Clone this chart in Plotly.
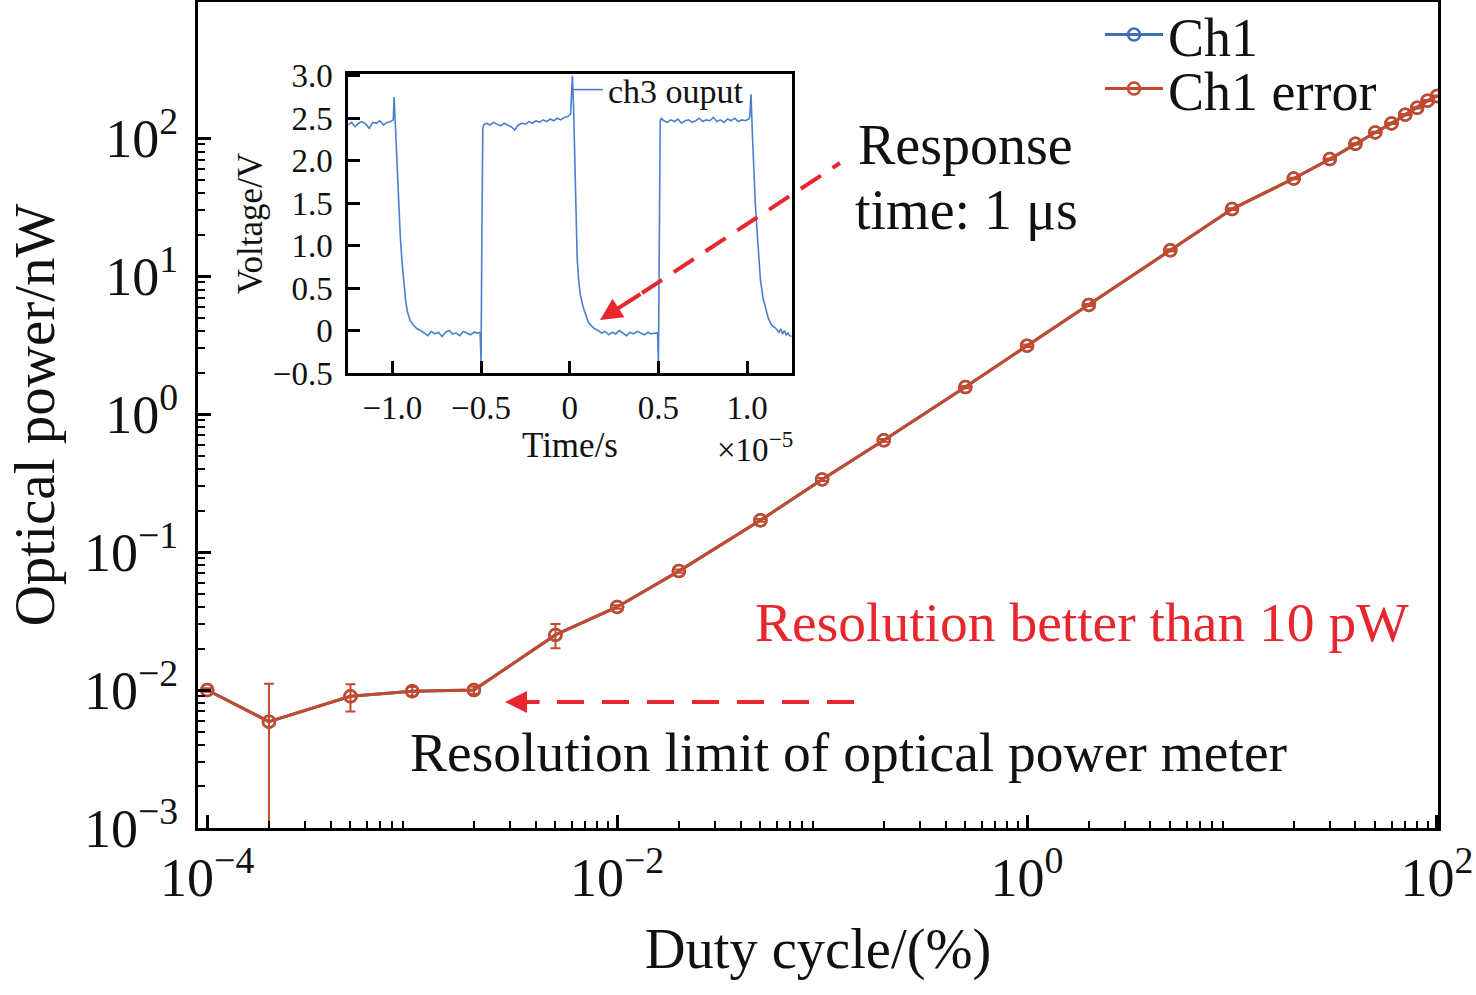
import plotly.graph_objects as go

FONT = "Liberation Serif"
BLUE = "#3d6db5"
RED = "#c44a2c"
INSET_BLUE = "#4a7fcc"
ARROW_RED = "#e8262d"

# main plot: duty cycle (%) vs optical power (nW)
duty_cycle = [1e-4, 2e-4, 5e-4, 1e-3, 2e-3, 5e-3, 1e-2, 2e-2, 5e-2, 0.1, 0.2, 0.5,
              1, 2, 5, 10, 20, 30, 40, 50, 60, 70, 80, 90, 100]
power_nw = [0.0100, 0.0059, 0.0090, 0.0098, 0.0100, 0.0251, 0.0400, 0.0728, 0.170,
            0.336, 0.646, 1.57, 3.13, 6.18, 15.4, 30.6, 51.0, 70.5, 91.0, 110, 128,
            148, 166, 187, 202]
power_err = [0.0003, 0.0052, 0.0020, 0.0007, 0.0006, 0.0050, 0.0012, 0.002, 0.004,
             0.008, 0.015, 0.03, 0.06, 0.1, 0.25, 0.4, 0.6, 0.8, 1.0, 1.2, 1.4, 1.5,
             1.7, 1.9, 2.0]

x_tickvals = [1e-4, 1e-2, 1, 100]
x_ticktext = ["10<sup>\u22124</sup>", "10<sup>\u22122</sup>", "10<sup>0</sup>", "10<sup>2</sup>"]
y_tickvals = [1e-3, 1e-2, 1e-1, 1, 10, 100]
y_ticktext = ["10<sup>\u22123</sup>", "10<sup>\u22122</sup>", "10<sup>\u22121</sup>",
              "10<sup>0</sup>", "10<sup>1</sup>", "10<sup>2</sup>"]

# inset: ch3 output waveform, time in units of 1e-5 s
wave_t = [-1.25, -1.23, -1.21, -1.19, -1.17, -1.15, -1.13, -1.11, -1.09, -1.07, -1.05, -1.03, -1.01,
          -0.995, -0.99, -0.98, -0.975, -0.965, -0.955, -0.945, -0.935, -0.925, -0.915, -0.90, -0.88, -0.86, -0.84,
          -0.82, -0.80, -0.78, -0.76, -0.74, -0.72, -0.70, -0.68, -0.66, -0.64, -0.62, -0.60, -0.58, -0.56, -0.54, -0.52,
          -0.505, -0.50, -0.495, -0.49, -0.485,
          -0.47, -0.45, -0.43, -0.41, -0.39, -0.37, -0.35, -0.33, -0.31, -0.29, -0.27, -0.25, -0.23, -0.21, -0.19,
          -0.17, -0.15, -0.13, -0.11, -0.09, -0.07, -0.05, -0.03, -0.01,
          0.005, 0.015, 0.022, 0.028, 0.035, 0.042, 0.05, 0.06, 0.075, 0.09, 0.105, 0.12, 0.14, 0.16,
          0.18, 0.20, 0.22, 0.24, 0.26, 0.28, 0.30, 0.32, 0.34, 0.36, 0.38, 0.40, 0.42, 0.44, 0.46, 0.48,
          0.495, 0.50, 0.505, 0.51, 0.515,
          0.53, 0.55, 0.57, 0.59, 0.61, 0.63, 0.65, 0.67, 0.69, 0.71, 0.73, 0.75, 0.77, 0.79, 0.81, 0.83,
          0.85, 0.87, 0.89, 0.91, 0.93, 0.95, 0.97, 0.99, 1.01,
          1.015, 1.022, 1.03, 1.035, 1.045, 1.055, 1.065, 1.075, 1.09, 1.105, 1.12, 1.14, 1.16,
          1.18, 1.19, 1.20, 1.21, 1.22, 1.23, 1.24, 1.25]
wave_v = [2.42, 2.45, 2.40, 2.44, 2.46, 2.43, 2.38, 2.45, 2.44, 2.47, 2.42, 2.45, 2.46,
          2.48, 2.75, 2.30, 2.00, 1.50, 1.10, 0.80, 0.52, 0.35, 0.22, 0.12, 0.06, 0.02, 0.00,
          -0.03, -0.06, -0.01, -0.04, -0.02, -0.07, -0.02, 0.00, -0.04, -0.03, -0.06, -0.01, -0.03, -0.05, -0.02, -0.03,
          -0.02, -0.38, 1.20, 2.38, 2.42,
          2.44, 2.42, 2.45, 2.43, 2.41, 2.44, 2.42, 2.40, 2.36, 2.42, 2.44, 2.43, 2.46, 2.44, 2.47,
          2.45, 2.48, 2.46, 2.49, 2.47, 2.50, 2.48, 2.51, 2.52,
          2.55, 3.00, 2.60, 2.00, 1.30, 0.85, 0.60, 0.42, 0.28, 0.18, 0.10, 0.06, 0.02, 0.00,
          -0.03, -0.01, -0.05, -0.02, -0.04, 0.00, -0.03, -0.06, -0.02, -0.04, -0.01, -0.03, -0.05, -0.02, -0.04, -0.03,
          -0.03, -0.36, 1.30, 2.45, 2.50,
          2.47, 2.45, 2.48, 2.46, 2.49, 2.44, 2.47, 2.48, 2.45, 2.47, 2.50, 2.46, 2.48, 2.47, 2.51, 2.46,
          2.48, 2.45, 2.49, 2.47, 2.50, 2.46, 2.48, 2.47, 2.49,
          2.52, 2.78, 2.30, 2.00, 1.55, 1.20, 0.85, 0.60, 0.38, 0.24, 0.14, 0.06, 0.03,
          -0.02, 0.02, -0.04, 0.00, -0.05, -0.03, -0.06, -0.07]

inset_xticks = [-1.0, -0.5, 0, 0.5, 1.0]
inset_xlabels = ["\u22121.0", "\u22120.5", "0", "0.5", "1.0"]
inset_yticks = [-0.5, 0, 0.5, 1.0, 1.5, 2.0, 2.5, 3.0]
inset_ylabels = ["\u22120.5", "0", "0.5", "1.0", "1.5", "2.0", "2.5", "3.0"]

# pixel frame of the main plot area, used to place annotations
W, H = 1476, 995
L, R, T, B = 198, 1438, 2, 828


def px(x):
    return (x - L) / (R - L)


def py(y):
    return (B - y) / (B - T)


fig = go.Figure()

fig.add_trace(go.Scatter(x=duty_cycle, y=power_nw, name="Ch1", mode="lines+markers",
                         line=dict(color=BLUE, width=3),
                         marker=dict(symbol="circle-open", size=12, color=BLUE,
                                     line=dict(width=2.5, color=BLUE)),
                         legend="legend"))
fig.add_trace(go.Scatter(x=duty_cycle, y=power_nw, name="Ch1 error", mode="lines+markers",
                         line=dict(color=RED, width=3),
                         marker=dict(symbol="circle-open", size=12, color=RED,
                                     line=dict(width=2.5, color=RED)),
                         error_y=dict(type="data", array=power_err, color=RED,
                                      thickness=2, width=5),
                         legend="legend3"))
fig.add_trace(go.Scatter(x=wave_t, y=wave_v, name="ch3 ouput", mode="lines",
                         line=dict(color=INSET_BLUE, width=1.6),
                         xaxis="x2", yaxis="y2", legend="legend2"))

x_minor = [k * 10.0 ** e for e in range(-4, 2) for k in range(2, 10)]
y_minor = [k * 10.0 ** e for e in range(-3, 2) for k in range(2, 10)]

axis_common = dict(showline=True, mirror=True, linecolor="black", linewidth=3,
                   ticks="inside", ticklen=13, tickwidth=2.5, tickcolor="black",
                   showgrid=False, zeroline=False, automargin=False,
                   tickfont=dict(family=FONT, size=54, color="#111111"))
inset_common = dict(showline=True, mirror=True, linecolor="black", linewidth=2.5,
                    ticks="inside", ticklen=12, tickwidth=2.5, tickcolor="black",
                    showgrid=False, zeroline=False, automargin=False, tickmode="array",
                    tickfont=dict(family=FONT, size=33, color="#111111"))
legend_common = dict(xanchor="left", yanchor="middle", bgcolor="rgba(0,0,0,0)",
                     itemwidth=58)

fig.update_layout(
    width=W, height=H,
    margin=dict(l=L, r=W - R, t=T, b=H - B, autoexpand=False),
    paper_bgcolor="white", plot_bgcolor="white",
    font=dict(family=FONT, color="#111111"),
    showlegend=True,
    xaxis=dict(type="log", range=[-4.045, 2.005], tickmode="array",
               tickvals=x_tickvals, ticktext=x_ticktext, ticklabelstandoff=0,
               minor=dict(ticks="inside", ticklen=7, tickwidth=2, tickcolor="black",
                          tickmode="array", tickvals=x_minor),
               title=dict(text="Duty cycle/(%)", font=dict(family=FONT, size=56.5), standoff=22),
               **axis_common),
    yaxis=dict(type="log", range=[-3, 2.987], tickmode="array",
               tickvals=y_tickvals, ticktext=y_ticktext, ticklabelstandoff=6,
               minor=dict(ticks="inside", ticklen=7, tickwidth=2, tickcolor="black",
                          tickmode="array", tickvals=y_minor),
               title=dict(text="Optical power/nW", font=dict(family=FONT, size=57), standoff=12),
               **axis_common),
    xaxis2=dict(domain=[px(348), px(792)], anchor="y2", range=[-1.25, 1.253],
                tickvals=inset_xticks, ticktext=inset_xlabels, ticklabelstandoff=4,
                title=dict(text="Time/s", font=dict(family=FONT, size=35), standoff=6),
                **inset_common),
    yaxis2=dict(domain=[py(373), py(74)], anchor="x2", range=[-0.5, 3.02],
                tickvals=inset_yticks, ticktext=inset_ylabels, ticklabelstandoff=6,
                title=dict(text="Voltage/V", font=dict(family=FONT, size=35), standoff=0),
                **inset_common),
    legend=dict(x=px(1100), y=py(35), font=dict(family=FONT, size=54), **legend_common),
    legend3=dict(x=px(1100), y=py(89), font=dict(family=FONT, size=54), **legend_common),
    legend2=dict(x=px(568), y=py(90), font=dict(family=FONT, size=34), xanchor="left",
                 yanchor="middle", bgcolor="rgba(0,0,0,0)"),
)

annotations = [
    dict(x=px(795), y=py(447), text="\u00d710<sup>\u22125</sup>", xanchor="right", yanchor="middle",
         font=dict(family=FONT, size=33, color="#111111")),
    dict(x=px(856), y=py(145), text="Response", xanchor="left", yanchor="middle",
         font=dict(family=FONT, size=56, color="#111111")),
    dict(x=px(853), y=py(210), text="time: 1 \u03bcs", xanchor="left", yanchor="middle",
         font=dict(family=FONT, size=56, color="#111111")),
    dict(x=px(1082), y=py(622), text="Resolution better than 10 pW", xanchor="center", yanchor="middle",
         font=dict(family=FONT, size=55.5, color=ARROW_RED)),
    dict(x=px(848), y=py(752), text="Resolution limit of optical power meter", xanchor="center",
         yanchor="middle", font=dict(family=FONT, size=55.5, color="#111111")),
    # arrow heads
    dict(x=px(600), y=py(320), ax=42, ay=-27, axref="pixel", ayref="pixel", text="",
         showarrow=True, arrowhead=2, arrowsize=1.1, arrowwidth=4, arrowcolor=ARROW_RED),
    dict(x=px(505), y=py(702), ax=36, ay=0, axref="pixel", ayref="pixel", text="",
         showarrow=True, arrowhead=2, arrowsize=1.1, arrowwidth=4, arrowcolor=ARROW_RED),
]
for a in annotations:
    a.setdefault("xref", "paper")
    a.setdefault("yref", "paper")
    a.setdefault("showarrow", False)
fig.update_layout(annotations=annotations)

# dashed arrow shafts
fig.add_shape(type="line", xref="paper", yref="paper", x0=px(642), y0=py(293), x1=px(840), y1=py(163),
              line=dict(color=ARROW_RED, width=4, dash="24px,14px"))
fig.add_shape(type="line", xref="paper", yref="paper", x0=px(557), y0=py(702), x1=px(862), y1=py(702),
              line=dict(color=ARROW_RED, width=4, dash="27px,18px"))

# the page body has a default 8px margin; drop it so the figure fills the window
fig.write_html("out.html", config={"displayModeBar": False},
               post_script="document.body.style.margin='0px';")
